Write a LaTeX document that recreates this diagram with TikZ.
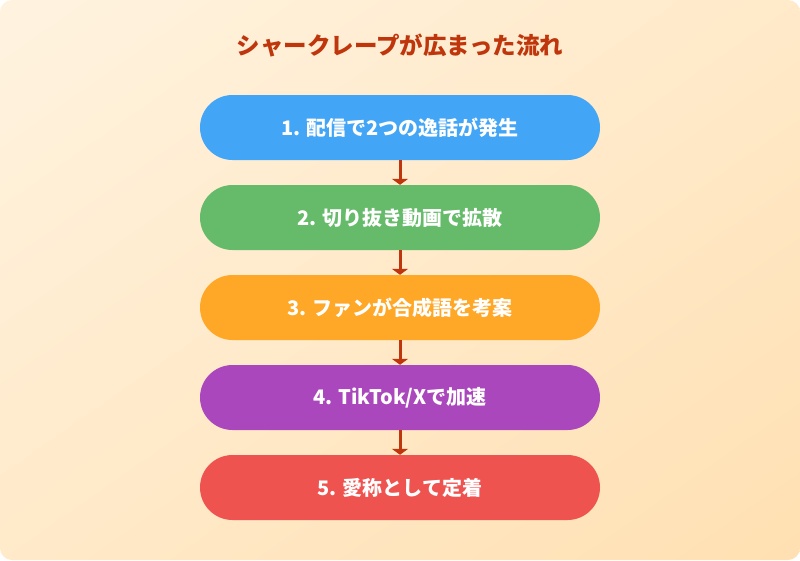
\documentclass[tikz,border=0pt]{standalone}
\usepackage{fontspec}
\setmainfont{Noto Sans CJK JP}
\usetikzlibrary{arrows.meta,shadings}
\definecolor{bgtop}{HTML}{FFF3E0}
\definecolor{bgbot}{HTML}{FFE0B2}
\definecolor{titlered}{HTML}{BF360C}
\definecolor{cblue}{HTML}{42A5F5}
\definecolor{cgreen}{HTML}{66BB6A}
\definecolor{corange}{HTML}{FFA726}
\definecolor{cpurple}{HTML}{AB47BC}
\definecolor{cred}{HTML}{EF5350}
\tikzset{
  stage/.style={rectangle, rounded corners=32.5pt, minimum width=400pt,
    minimum height=65pt, inner sep=0pt, text=white,
    font=\fontsize{20pt}{24pt}\selectfont\bfseries},
  flow/.style={titlered, line width=3pt, -{Triangle[width=16pt,length=6pt]}}
}
\begin{document}
\begin{tikzpicture}[x=1pt, y=-1pt]
  \useasboundingbox (0,0) rectangle (800,560);
  \shade[rounded corners=12pt, upper left=bgtop, lower right=bgbot,
    upper right=bgtop!50!bgbot, lower left=bgtop!50!bgbot] (0,0) rectangle (800,560);
  \node[titlered, font=\fontsize{23.5pt}{28pt}\selectfont\bfseries] (title) at (400,45){シャークレープが広まった流れ};
  \node[stage, fill=cblue] (s1) at (400,127.5){1. 配信で2つの逸話が発生};
  \node[stage, fill=cgreen] (s2) at (400,217.5){2. 切り抜き動画で拡散};
  \node[stage, fill=corange] (s3) at (400,307.5){3. ファンが合成語を考案};
  \node[stage, fill=cpurple] (s4) at (400,397.5){4. TikTok/Xで加速};
  \node[stage, fill=cred] (s5) at (400,487.5){5. 愛称として定着};
    \draw[flow] (s1) -- (s2);
    \draw[flow] (s2) -- (s3);
    \draw[flow] (s3) -- (s4);
    \draw[flow] (s4) -- (s5);
\end{tikzpicture}
\end{document}
